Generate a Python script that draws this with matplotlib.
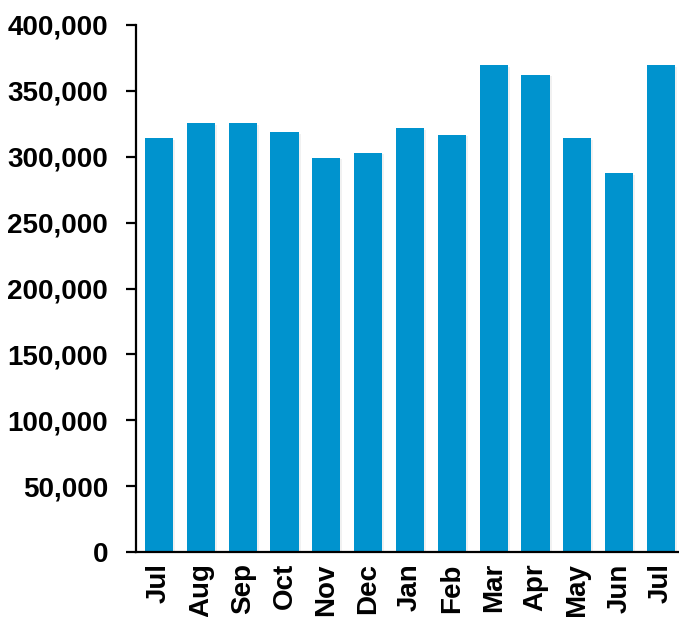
import matplotlib
matplotlib.use("Agg")
import matplotlib.pyplot as plt
import matplotlib.patheffects as pe
from matplotlib.ticker import FuncFormatter

months = ["Jul", "Aug", "Sep", "Oct", "Nov", "Dec", "Jan", "Feb",
          "Mar", "Apr", "May", "Jun", "Jul"]
values = [314000, 325500, 325500, 318500, 299000, 303000, 321500, 316500,
          369500, 362000, 314000, 287500, 369500]

plt.rcParams['font.family'] = ['Liberation Sans', 'DejaVu Sans']

fig = plt.figure(figsize=(6.79, 6.17), dpi=100)
ax = fig.add_axes([0.2003, 0.1053, 0.7997, 0.8542])

x = list(range(len(values)))
bars = ax.bar(x, values, width=0.67, color="#0093CE", zorder=2)
for b in bars:
    b.set_path_effects([pe.SimplePatchShadow(offset=(1.5, -1), alpha=0.08, shadow_rgbFace="#555555"),
                        pe.Normal()])

ax.set_xlim(-0.55, 12.43)
ax.set_ylim(0, 400000)
ax.set_yticks(range(0, 400001, 50000))
ax.yaxis.set_major_formatter(FuncFormatter(lambda v, p: f"{int(v):,}"))
ax.set_xticks(x)
ax.set_xticklabels(months, rotation=90)

for s in ["top", "right"]:
    ax.spines[s].set_visible(False)
for s in ["left", "bottom"]:
    ax.spines[s].set_linewidth(1.6)
    ax.spines[s].set_color("black")

ax.tick_params(axis="y", length=7, width=1.6, labelsize=20, pad=13)
ax.tick_params(axis="x", length=0, labelsize=20, pad=8)
for lab in ax.get_xticklabels() + ax.get_yticklabels():
    lab.set_fontweight("bold")

fig.savefig("out.png", dpi=100)
